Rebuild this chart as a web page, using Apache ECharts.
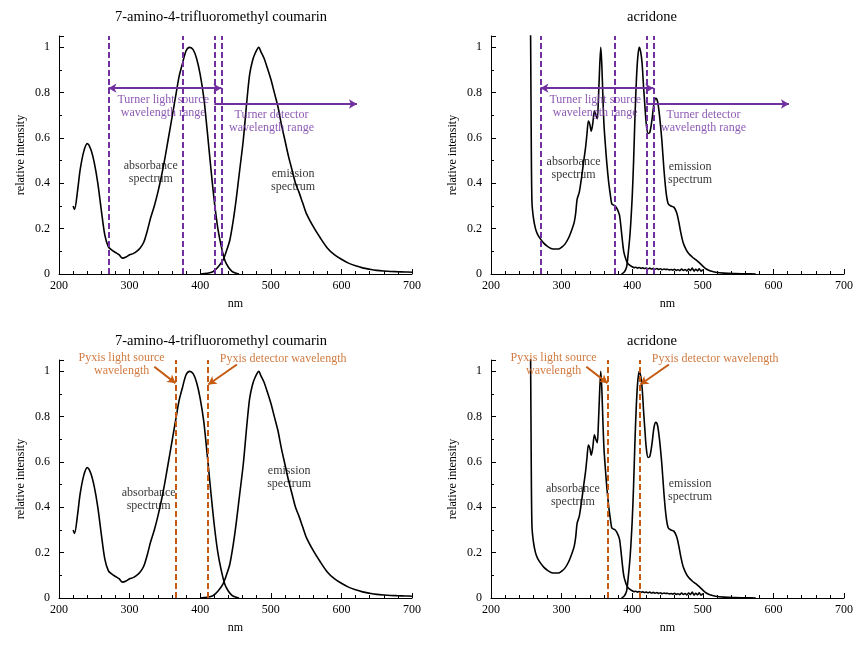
<!DOCTYPE html>
<html>
<head>
<meta charset="utf-8">
<script src="https://cdn.jsdelivr.net/npm/echarts@6/dist/echarts.min.js"></script>
<style>
  html, body { margin: 0; padding: 0; background: #fff; }
  #main { width: 864px; height: 648px; }
</style>
</head>
<body>
<div id="main"></div>
<script>
// 7-amino-4-trifluoromethyl coumarin
var coumAbsNm  = [220, 222, 226, 230, 235, 240, 245, 250, 255, 260, 265, 270, 275, 280, 285, 290, 295, 300, 305, 310, 315, 320, 325, 330, 335, 340, 345, 350, 355, 360, 365, 370, 375, 380, 385, 390, 395, 400, 405, 410, 415, 420, 425, 430, 435, 440, 445, 450, 455];
var coumAbsVal = [0.30, 0.285, 0.36, 0.46, 0.54, 0.575, 0.55, 0.49, 0.40, 0.28, 0.17, 0.12, 0.105, 0.095, 0.085, 0.07, 0.075, 0.085, 0.09, 0.10, 0.115, 0.14, 0.19, 0.25, 0.30, 0.36, 0.43, 0.51, 0.60, 0.69, 0.78, 0.87, 0.93, 0.985, 1.0, 0.99, 0.95, 0.88, 0.78, 0.63, 0.47, 0.32, 0.20, 0.12, 0.06, 0.03, 0.012, 0.004, 0];
var coumEmNm   = [400, 410, 418, 425, 432, 437, 442, 447, 451, 456, 461, 466, 470, 474, 478, 483, 486, 490, 495, 500, 505, 510, 515, 520, 525, 530, 535, 540, 545, 550, 560, 570, 580, 590, 600, 610, 620, 630, 640, 650, 660, 670, 680, 690, 700];
var coumEmVal  = [0, 0.003, 0.01, 0.03, 0.06, 0.10, 0.15, 0.24, 0.33, 0.46, 0.59, 0.76, 0.88, 0.94, 0.975, 1.0, 0.98, 0.955, 0.91, 0.86, 0.80, 0.74, 0.66, 0.59, 0.52, 0.46, 0.40, 0.36, 0.315, 0.27, 0.21, 0.16, 0.115, 0.085, 0.065, 0.048, 0.036, 0.027, 0.021, 0.016, 0.013, 0.011, 0.01, 0.009, 0.008];

// acridone
var acrAbsNm  = [255, 256, 257, 258, 260, 263, 266, 270, 275, 280, 285, 290, 295, 300, 305, 310, 315, 318, 320, 322, 325, 328, 331, 334, 336, 338, 340, 342, 344, 346.5, 348.5, 350.5, 352, 353.5, 355.5, 357, 358.5, 360, 362, 364, 366.5, 369, 371, 373, 376, 379, 382, 384, 386, 388, 390, 393, 396, 400,
                 402.5, 405, 407.5, 410, 412.5, 415, 417.5, 420, 422.5, 425, 427.5, 430, 432.5, 435, 437.5, 440, 442.5, 445, 447.5, 450, 452.5, 455, 457.5, 460, 462.5, 465, 467.5, 470, 472.5, 475, 477.5, 480, 482.5, 485, 487.5, 490, 492.5, 495, 497.5, 500];
var acrAbsVal = [1.4, 1.1, 0.6, 0.32, 0.25, 0.20, 0.175, 0.155, 0.135, 0.122, 0.113, 0.11, 0.11, 0.118, 0.133, 0.16, 0.20, 0.23, 0.27, 0.33, 0.36, 0.42, 0.49, 0.56, 0.62, 0.675, 0.66, 0.63, 0.66, 0.72, 0.70, 0.685, 0.76, 0.88, 1.0, 0.92, 0.78, 0.66, 0.57, 0.49, 0.41, 0.35, 0.31, 0.305, 0.30, 0.285, 0.26, 0.21, 0.15, 0.10, 0.075, 0.05, 0.04, 0.032,
                 0.028, 0.030, 0.026, 0.029, 0.025, 0.027, 0.024, 0.026, 0.023, 0.026, 0.022, 0.025, 0.021, 0.024, 0.020, 0.023, 0.019, 0.022, 0.020, 0.021, 0.018, 0.020, 0.017, 0.021, 0.016, 0.019, 0.015, 0.022, 0.016, 0.020, 0.014, 0.022, 0.015, 0.026, 0.013, 0.021, 0.014, 0.023, 0.012, 0.020];
var acrEmNm   = [385, 389, 392, 394, 397, 400, 402, 404, 406, 408, 410, 412, 414, 416, 418, 420, 422.5, 425, 428, 431, 433.5, 436, 439, 442, 445, 448, 451, 455, 459, 463, 466, 469, 472, 476, 480, 485, 490, 495, 500, 505, 510, 518, 530, 545, 560, 575];
var acrEmVal  = [0, 0.01, 0.03, 0.08, 0.18, 0.34, 0.50, 0.70, 0.86, 0.96, 1.0, 0.98, 0.93, 0.83, 0.74, 0.66, 0.62, 0.625, 0.68, 0.755, 0.775, 0.76, 0.69, 0.59, 0.46, 0.36, 0.31, 0.30, 0.295, 0.27, 0.23, 0.18, 0.14, 0.11, 0.09, 0.075, 0.063, 0.05, 0.035, 0.022, 0.014, 0.008, 0.004, 0.002, 0.001, 0];

// wavelengths of the instruments
var turnerLines = [270, 375, 420, 430];
var pyxisLines  = [365, 410];

var titles = ['7-amino-4-trifluoromethyl coumarin', 'acridone', '7-amino-4-trifluoromethyl coumarin', 'acridone'];
var yTicks = [0, 0.2, 0.4, 0.6, 0.8, 1];

var PURPLE = '#7030a0';
var ORANGE = '#c55a11';
var FONT = '"Liberation Serif", "Times New Roman", serif';

function zip(xs, ys) {
    var out = [];
    xs.forEach(function (x, i) { out.push([x, ys[i]]); });
    return out;
}

var myChart = echarts.init(document.getElementById('main'), null, {renderer: 'canvas'});

var grids = [
    {left: 59, top: 36, width: 353, height: 238},
    {left: 491, top: 36, width: 353, height: 238},
    {left: 59, top: 360, width: 353, height: 238},
    {left: 491, top: 360, width: 353, height: 238}
];

var xAxes = [], yAxes = [];
grids.forEach(function (g, i) {
    xAxes.push({
        gridIndex: i, type: 'value', min: 200, max: 700, interval: 100,
        name: 'nm', nameLocation: 'middle', nameGap: 24,
        nameTextStyle: {color: '#000', fontFamily: FONT, fontSize: 12},
        axisLine: {lineStyle: {color: '#000', width: 1}},
        axisTick: {inside: true, length: 5, lineStyle: {color: '#000'}},
        minorTick: {show: true, splitNumber: 5, length: 3, lineStyle: {color: '#000'}},
        axisLabel: {color: '#000', fontFamily: FONT, fontSize: 12, margin: 6},
        splitLine: {show: false}
    });
    yAxes.push({
        gridIndex: i, type: 'value', min: 0, max: 1.05, interval: 0.2,
        name: 'relative intensity', nameLocation: 'middle', nameGap: 32,
        nameTextStyle: {color: '#000', fontFamily: FONT, fontSize: 12},
        axisLine: {show: true, lineStyle: {color: '#000', width: 1}},
        axisTick: {inside: true, length: 5, lineStyle: {color: '#000'}},
        minorTick: {show: true, splitNumber: 2, length: 3, lineStyle: {color: '#000'}},
        axisLabel: {
            color: '#000', fontFamily: FONT, fontSize: 12, margin: 9, showMaxLabel: false,
            formatter: function (v) { return yTicks.indexOf(+v.toFixed(2)) >= 0 ? String(+v.toFixed(2)) : ''; }
        },
        splitLine: {show: false}
    });
});

function spectrum(i, xs, ys) {
    return {
        type: 'line', xAxisIndex: i, yAxisIndex: i,
        data: zip(xs, ys), showSymbol: false, smooth: 0.3,
        lineStyle: {color: '#000', width: 1.6}, z: 3
    };
}

// text notes placed in data coords (not chart data)
function notes(i, list, lines) {
    return {
        type: 'scatter', xAxisIndex: i, yAxisIndex: i, clip: false,
        symbolSize: 0, z: 5, silent: true,
        data: list.map(function (n) {
            return {value: [n[0], n[1]], text: n[2], label: {color: n[3] || '#000'}};
        }),
        label: {
            show: true, position: 'inside', fontFamily: FONT, fontSize: 12, lineHeight: 13,
            align: 'center',
            formatter: function (p) { return p.data.text; }
        },
        labelLayout: {hideOverlap: false},
        markLine: {
            silent: true, animation: false,
            symbol: ['none', 'none'],
            label: {show: false},
            data: lines
        }
    };
}

function vline(x, color) {
    return {xAxis: x, lineStyle: {color: color, type: [6, 3], width: 2}};
}
function arrow(x1, y1, x2, y2, color, both) {
    return [
        {coord: [x1, y1], symbol: both ? 'arrow' : 'none', symbolSize: [7, 8], lineStyle: {color: color, type: 'solid', width: 2}},
        {coord: [x2, y2], symbol: 'arrow', symbolSize: [7, 8]}
    ];
}

var series = [];
series.push(spectrum(0, coumAbsNm, coumAbsVal), spectrum(0, coumEmNm, coumEmVal));
series.push(spectrum(1, acrAbsNm, acrAbsVal), spectrum(1, acrEmNm, acrEmVal));
series.push(spectrum(2, coumAbsNm, coumAbsVal), spectrum(2, coumEmNm, coumEmVal));
series.push(spectrum(3, acrAbsNm, acrAbsVal), spectrum(3, acrEmNm, acrEmVal));

var turnerMarks = turnerLines.map(function (x) { return vline(x, PURPLE); })
    .concat([arrow(270, 0.82, 430, 0.82, PURPLE, true), arrow(420, 0.75, 622, 0.75, PURPLE, false)]);
var pyxisMarks = pyxisLines.map(function (x) { return vline(x, ORANGE); })
    .concat([arrow(335, 1.02, 365, 0.948, ORANGE, false), arrow(452, 1.03, 411.5, 0.942, ORANGE, false)]);

var turnerText = [[347.6, 0.74, 'Turner light source\nwavelength range', PURPLE], [501, 0.675, 'Turner detector\nwavelength range', PURPLE]];
var pyxisText  = [[288.7, 1.032, 'Pyxis light source\nwavelength', ORANGE], [517.5, 1.055, 'Pyxis detector wavelength', ORANGE]];

series.push(notes(0, turnerText.concat([[330, 0.45, 'absorbance\nspectrum'], [531.6, 0.412, 'emission\nspectrum']]), turnerMarks));
series.push(notes(1, turnerText.concat([[317, 0.468, 'absorbance\nspectrum'], [482, 0.444, 'emission\nspectrum']]), turnerMarks));
series.push(notes(2, pyxisText.concat([[327, 0.436, 'absorbance\nspectrum'], [526, 0.533, 'emission\nspectrum']]), pyxisMarks));
series.push(notes(3, pyxisText.concat([[316, 0.452, 'absorbance\nspectrum'], [482, 0.474, 'emission\nspectrum']]), pyxisMarks));

var option = {
    backgroundColor: '#fff',
    animation: false,
    title: [
        {text: titles[0], left: 216, top: 5, textAlign: 'center'},
        {text: titles[1], left: 647, top: 5, textAlign: 'center'},
        {text: titles[2], left: 216, top: 329, textAlign: 'center'},
        {text: titles[3], left: 647, top: 329, textAlign: 'center'}
    ].map(function (t) {
        t.textStyle = {color: '#000', fontFamily: FONT, fontSize: 14.5, fontWeight: 'normal'};
        return t;
    }),
    grid: grids,
    xAxis: xAxes,
    yAxis: yAxes,
    series: series
};

myChart.setOption(option);
</script>
</body>
</html>
